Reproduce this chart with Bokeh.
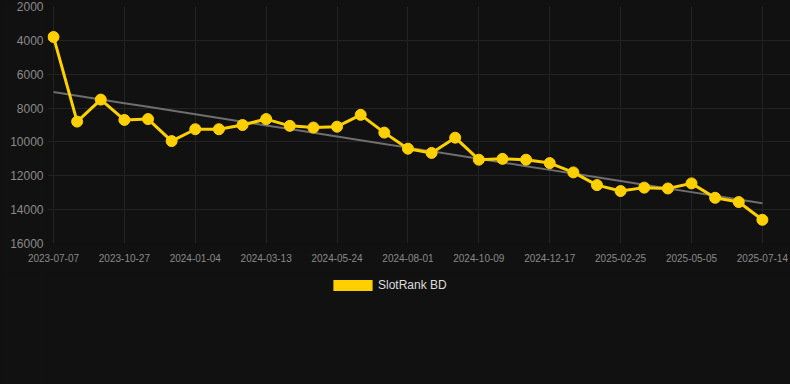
import numpy as np
from bokeh.plotting import figure
from bokeh.layouts import column
from bokeh.models import (Range1d, FixedTicker, Legend, LegendItem, ColumnDataSource)
from bokeh.embed import file_html
from bokeh.resources import INLINE

# ---- data ----
tick_labels = ["2023-07-07", "2023-10-27", "2024-01-04", "2024-03-13", "2024-05-24",
               "2024-08-01", "2024-10-09", "2024-12-17", "2025-02-25", "2025-05-05",
               "2025-07-14"]
rank = [3800, 8800, 7500, 8700, 8650, 9950, 9250, 9250, 9000, 8650,
        9050, 9150, 9100, 8400, 9450, 10400, 10650, 9750, 11050, 11000,
        11050, 11250, 11800, 12550, 12900, 12700, 12750, 12450, 13300, 13550,
        14600]
series_name = "SlotRank BD"
y_ticks = [2000, 4000, 6000, 8000, 10000, 12000, 14000, 16000]

idx = np.arange(len(rank))
slope, intercept = np.polyfit(idx, rank, 1)
trend = slope * idx + intercept

BG = "#111111"
GRID = "#232323"
GOLD = "#FFD000"
TXT = "#8a8a8a"

p = figure(frame_width=743, frame_height=237, output_backend="svg", toolbar_location=None,
           x_range=Range1d(-0.254, 31.19), y_range=Range1d(16000, 2000),
           min_border_left=47, min_border_right=0, min_border_top=6,
           min_border_bottom=30)
p.background_fill_color = BG
p.border_fill_color = BG
p.outline_line_color = None

# axes
p.xaxis.ticker = FixedTicker(ticks=list(range(0, len(rank), 3)))
p.xaxis.major_label_overrides = {i * 3: lab for i, lab in enumerate(tick_labels)}
p.yaxis.ticker = FixedTicker(ticks=y_ticks)
for ax in (p.xaxis[0], p.yaxis[0]):
    ax.axis_line_color = None
    ax.major_tick_line_color = None
    ax.minor_tick_line_color = None
    ax.major_tick_out = 0
    ax.minor_tick_out = 0
    ax.major_label_text_color = TXT
    ax.major_label_text_font = "Liberation Sans"
p.xaxis.major_label_text_font_size = "10px"
p.yaxis.major_label_text_font_size = "12px"
p.xaxis.major_label_standoff = 10
p.yaxis.major_label_standoff = 4

p.xgrid.grid_line_color = GRID
p.ygrid.grid_line_color = GRID
p.xgrid.ticker = FixedTicker(ticks=list(range(0, len(rank), 3)))
p.ygrid.ticker = FixedTicker(ticks=y_ticks)

# trend line
p.line(idx, trend, line_color="#6e6e6e", line_width=2)

# series
src = ColumnDataSource(dict(x=idx, y=rank))
p.line("x", "y", source=src, line_color=GOLD, line_width=3)
p.scatter("x", "y", source=src, size=11, fill_color=GOLD, line_color=GOLD)

# legend strip (separate figure below the chart; its frame aligns with the chart's)
q = figure(width=790, height=111, output_backend="svg", toolbar_location=None,
           x_axis_type=None, y_axis_type=None,
           x_range=Range1d(0, 1), y_range=Range1d(0, 1),
           min_border_left=0, min_border_right=0, min_border_top=0, min_border_bottom=0)
q.background_fill_color = BG
q.border_fill_color = BG
q.outline_line_color = None
q.grid.visible = False
# swatch renderer kept outside the visible range; only its legend glyph is seen
leg_r = q.rect(x=[5], y=[5], width=1, height=1, fill_color=GOLD, line_color=None)
legend = Legend(items=[LegendItem(label=series_name, renderers=[leg_r])],
                location=(281, 92), orientation="horizontal",
                glyph_width=49, glyph_height=14, label_standoff=1,
                label_text_font="Liberation Sans", label_text_font_size="12px",
                label_text_color="#dddddd", background_fill_alpha=0,
                border_line_color=None, padding=0, margin=0, spacing=0)
q.add_layout(legend, "center")

layout = column(p, q, spacing=0)

html = file_html(layout, INLINE)
html = html.replace("<head>", "<head><style>body{background:#111111;}</style>", 1)
open("out.html", "w").write(html)
